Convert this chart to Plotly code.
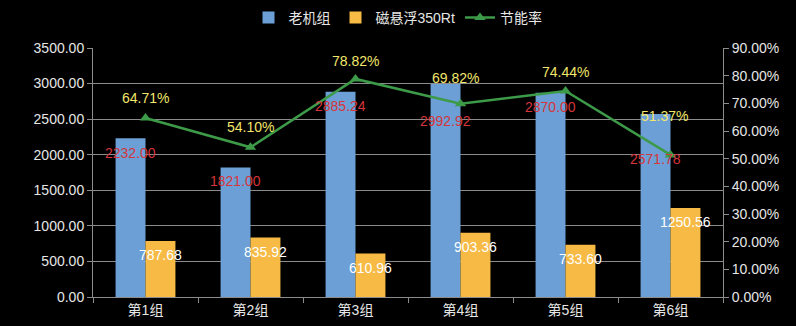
import plotly.graph_objects as go

categories = ["第1组", "第2组", "第3组", "第4组", "第5组", "第6组"]
old_units = [2232.00, 1821.00, 2885.24, 2992.92, 2870.00, 2571.78]
maglev = [787.68, 835.92, 610.96, 903.36, 733.60, 1250.56]
saving = [0.6471, 0.5410, 0.7882, 0.6982, 0.7444, 0.5137]

# label offsets (pixels) as seen in the reference
old_label_shift = [-15, -14, -14, -37, -14, -45]
pct_label_shift = [20, 20, 18, 26, 19, 39]
pct_label_xshift = [0, 0, 0, -5, 0, -6]

FONT = "Liberation Sans, Arial, Noto Sans CJK SC, sans-serif"
GRID = "#8c8c8c"

fig = go.Figure()
fig.add_trace(go.Bar(name="老机组", x=categories, y=old_units, marker_color="#6b9fd6",
                     marker_line_width=0, yaxis="y"))
fig.add_trace(go.Bar(name="磁悬浮350Rt", x=categories, y=maglev, marker_color="#f6ba45",
                     marker_line_width=0, yaxis="y"))
fig.add_trace(go.Scatter(name="节能率", x=categories, y=saving, yaxis="y2",
                         mode="lines+markers",
                         line=dict(color="#3d9a48", width=2.5),
                         marker=dict(symbol="triangle-up", size=10, color="#3d9a48")))

ann = []
for c, v, s in zip(categories, old_units, old_label_shift):
    ann.append(dict(x=c, y=v, xref="x", yref="y", text=f"{v:.2f}", showarrow=False,
                    xshift=-15, yshift=s, font=dict(color="#d6353a", size=14, family=FONT)))
for c, v in zip(categories, maglev):
    ann.append(dict(x=c, y=v, xref="x", yref="y", text=f"{v:.2f}", showarrow=False,
                    xshift=15, yshift=-14, font=dict(color="#ffffff", size=14, family=FONT)))
for c, v, s, xs in zip(categories, saving, pct_label_shift, pct_label_xshift):
    ann.append(dict(x=c, y=v, xref="x", yref="y2", text=f"{v*100:.2f}%", showarrow=False,
                    xshift=xs, yshift=s, font=dict(color="#f2e66b", size=14, family=FONT)))

fig.update_layout(
    width=796, height=326,
    margin=dict(l=93, r=73, t=48, b=29, autoexpand=False),
    paper_bgcolor="#000000", plot_bgcolor="#000000",
    barmode="group", bargap=0.43, bargroupgap=0,
    font=dict(family=FONT, size=14, color="#e0e0e0"),
    showlegend=True,
    legend=dict(orientation="h", x=0.5, xanchor="center", xref="container",
                y=1 - 18 / 326, yanchor="middle", yref="container",
                font=dict(size=14, color="#e6e6e6", family=FONT),
                bgcolor="rgba(0,0,0,0)", itemwidth=30, tracegroupgap=0),
    xaxis=dict(type="category", showgrid=False, showline=True, linecolor=GRID,
               ticks="outside", tickson="boundaries", ticklen=5, tickcolor=GRID,
               automargin=False, tickfont=dict(size=14, color="#e6e6e6")),
    yaxis=dict(range=[0, 3500], dtick=500, tickformat=".2f", showgrid=True,
               gridcolor=GRID, gridwidth=1, showline=True, linecolor=GRID,
               ticks="outside", ticklen=5, tickcolor=GRID, zeroline=False,
               automargin=False, tickfont=dict(size=14, color="#e6e6e6")),
    yaxis2=dict(range=[0, 0.9], dtick=0.1, tickformat=".2%", overlaying="y", side="right",
                showgrid=False, showline=True, linecolor=GRID, ticks="outside",
                ticklen=5, tickcolor=GRID, zeroline=False, automargin=False,
                tickfont=dict(size=14, color="#e6e6e6")),
    annotations=ann,
)

fig.write_html("out.html")
